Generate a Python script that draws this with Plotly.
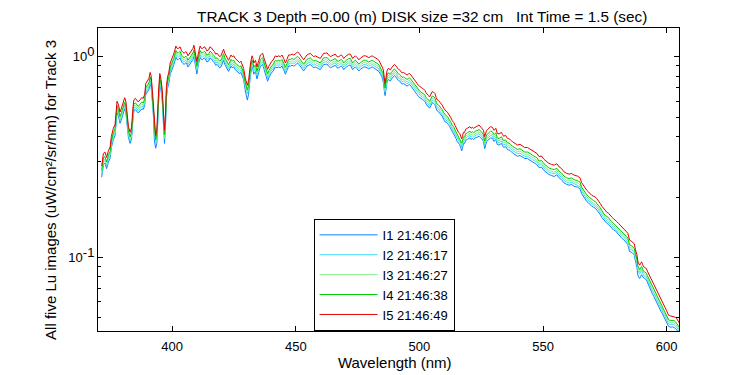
import math
import plotly.graph_objects as go

wavelength = [
    371.5, 372.2, 372.8, 373.5, 374.2, 374.9, 375.4, 376.2, 376.9, 377.4,
    377.7, 378.3, 378.9, 379.5, 380.2, 380.8, 381.3, 381.8, 382.3, 383.0,
    383.6, 384.1, 384.5, 385.1, 385.7, 386.3, 387.0, 387.7, 388.3, 388.9,
    389.3, 390.0, 390.6, 391.1, 391.5, 392.0, 392.4, 392.8, 393.3, 393.8,
    394.3, 394.6, 395.0, 395.5, 396.0, 396.4, 396.9, 397.3, 397.7, 398.2,
    398.6, 399.2, 399.7, 400.1, 400.6, 401.0, 401.5, 402.0, 402.5, 403.2,
    403.8, 404.4, 404.9, 405.5, 405.9, 406.4, 406.9, 407.4, 407.9, 408.4,
    408.8, 409.3, 410.0, 410.6, 411.3, 411.8, 412.3, 412.9, 413.4, 414.0,
    414.7, 415.3, 415.8, 416.5, 417.1, 417.6, 418.2, 418.7, 419.2, 419.7,
    420.3, 420.8, 421.3, 421.9, 422.4, 422.8, 423.3, 423.8, 424.3, 424.9,
    425.5, 426.2, 426.8, 427.3, 427.8, 428.2, 428.9, 429.6, 430.0, 430.4,
    430.9, 431.3, 431.7, 432.3, 432.7, 433.0, 433.7, 434.3, 435.0, 435.7,
    436.2, 436.6, 437.2, 437.7, 438.2, 438.6, 439.2, 439.7, 440.3, 440.8,
    441.3, 441.7, 442.4, 443.1, 443.7, 444.4, 445.1, 445.8, 446.4, 447.1,
    447.8, 448.5, 449.1, 449.8, 450.4, 450.8, 451.3, 451.8, 452.5, 453.2,
    453.8, 454.5, 455.2, 455.9, 456.5, 457.2, 457.9, 458.6, 459.2, 459.9,
    460.6, 461.3, 462.0, 462.6, 463.3, 464.0, 464.6, 465.3, 466.0, 466.7,
    467.4, 468.0, 468.5, 469.0, 469.4, 470.0, 470.7, 471.4, 472.1, 472.6,
    473.0, 473.6, 474.1, 474.8, 475.5, 476.2, 476.8, 477.5, 478.2, 478.8,
    479.5, 480.2, 480.9, 481.5, 482.2, 482.9, 483.6, 484.2, 484.7, 485.1,
    485.4, 485.8, 486.1, 486.5, 486.9, 487.4, 487.9, 488.3, 488.7, 489.0,
    489.5, 489.9, 490.5, 491.0, 491.5, 492.0, 492.5, 493.0, 493.6, 494.1,
    494.6, 495.0, 495.5, 496.0, 496.6, 497.1, 497.7, 498.2, 498.7, 499.1,
    499.6, 500.1, 500.7, 501.2, 501.7, 502.2, 502.7, 503.2, 503.7, 504.1,
    504.7, 505.2, 505.8, 506.3, 506.8, 507.2, 507.7, 508.2, 508.7, 509.2,
    509.8, 510.3, 510.8, 511.3, 511.8, 512.2, 512.8, 513.3, 513.9, 514.4,
    514.8, 515.3, 515.8, 516.3, 516.7, 517.1, 517.4, 517.8, 518.3, 518.7,
    519.4, 519.9, 520.4, 520.9, 521.4, 521.9, 522.4, 522.9, 523.4, 524.1,
    524.6, 525.1, 525.6, 525.9, 526.4, 526.8, 527.2, 527.7, 528.1, 528.8,
    529.5, 530.2, 530.9, 531.5, 532.2, 532.7, 533.2, 533.6, 534.0, 534.9,
    535.6, 536.2, 536.7, 537.6, 538.6, 539.2, 539.7, 540.7, 541.7, 542.6,
    543.7, 544.4, 545.0, 545.7, 546.4, 547.5, 548.4, 549.4, 550.4, 551.5,
    552.4, 553.4, 554.5, 555.6, 556.5, 557.5, 558.5, 559.6, 560.6, 561.5,
    562.6, 564.0, 565.0, 565.6, 566.3, 567.0, 567.7, 568.4, 569.0, 569.7,
    570.4, 571.1, 571.8, 572.4, 573.1, 573.8, 574.5, 575.1, 575.8, 576.5,
    577.1, 577.8, 578.5, 579.2, 579.8, 580.5, 581.2, 581.8, 582.5, 583.2,
    583.8, 584.3, 584.7, 585.0, 585.9, 586.5, 586.9, 587.4, 588.0, 588.4,
    588.7, 589.1, 589.5, 589.9, 590.3, 590.7, 591.2, 591.8, 592.2, 592.7,
    593.2, 593.7, 594.2, 594.8, 595.3, 595.9, 596.3, 596.8, 597.3, 597.7,
    598.3, 598.8, 599.4, 599.9, 600.4, 600.8, 601.3, 601.8, 602.4, 602.9,
    603.6, 604.1, 604.5, 605.2,
]

I1 = [
    0.251, 0.290, 0.295, 0.277, 0.299, 0.312, 0.352, 0.387, 0.405, 0.458,
    0.528, 0.506, 0.466, 0.488, 0.528, 0.550, 0.524, 0.440, 0.396, 0.370,
    0.392, 0.484, 0.537, 0.546, 0.537, 0.524, 0.537, 0.550, 0.546, 0.572,
    0.647, 0.673, 0.686, 0.735, 0.704, 0.598, 0.510, 0.385, 0.350, 0.370,
    0.540, 0.625, 0.726, 0.678, 0.598, 0.495, 0.370, 0.450, 0.630, 0.704,
    0.730, 0.818, 0.845, 0.862, 0.906, 0.942, 0.994, 0.968, 0.968, 0.986,
    0.942, 0.924, 0.915, 0.933, 0.920, 0.889, 0.906, 0.924, 0.946, 0.968,
    1.003, 0.915, 0.820, 0.915, 0.994, 0.968, 0.968, 0.986, 0.977, 0.942,
    0.950, 0.986, 0.977, 0.950, 0.933, 0.906, 0.915, 0.898, 0.880, 0.889,
    0.933, 0.959, 0.915, 0.880, 0.862, 0.845, 0.871, 0.898, 0.880, 0.889,
    0.862, 0.845, 0.836, 0.823, 0.836, 0.814, 0.770, 0.675, 0.635, 0.608,
    0.650, 0.740, 0.818, 0.889, 0.862, 0.818, 0.845, 0.775, 0.845, 0.898,
    0.906, 0.915, 0.862, 0.818, 0.783, 0.755, 0.792, 0.818, 0.836, 0.845,
    0.871, 0.889, 0.880, 0.889, 0.880, 0.898, 0.862, 0.818, 0.854, 0.898,
    0.898, 0.906, 0.898, 0.906, 0.924, 0.928, 0.915, 0.898, 0.871, 0.849,
    0.871, 0.898, 0.906, 0.915, 0.898, 0.880, 0.889, 0.880, 0.871, 0.862,
    0.889, 0.915, 0.915, 0.920, 0.898, 0.880, 0.889, 0.898, 0.906, 0.880,
    0.880, 0.893, 0.898, 0.880, 0.862, 0.880, 0.898, 0.906, 0.906, 0.880,
    0.862, 0.880, 0.889, 0.871, 0.849, 0.867, 0.880, 0.889, 0.889, 0.880,
    0.871, 0.880, 0.889, 0.880, 0.871, 0.858, 0.845, 0.818, 0.801, 0.774,
    0.750, 0.680, 0.640, 0.690, 0.748, 0.770, 0.766, 0.757, 0.774, 0.783,
    0.796, 0.805, 0.792, 0.770, 0.761, 0.757, 0.744, 0.730, 0.735, 0.726,
    0.717, 0.713, 0.722, 0.726, 0.713, 0.700, 0.686, 0.678, 0.660, 0.647,
    0.634, 0.625, 0.616, 0.612, 0.607, 0.598, 0.581, 0.568, 0.563, 0.554,
    0.572, 0.590, 0.585, 0.576, 0.550, 0.537, 0.532, 0.524, 0.515, 0.506,
    0.488, 0.475, 0.471, 0.466, 0.458, 0.449, 0.436, 0.422, 0.414, 0.400,
    0.392, 0.378, 0.370, 0.365, 0.352, 0.340, 0.348, 0.370, 0.370, 0.383,
    0.387, 0.392, 0.394, 0.387, 0.392, 0.387, 0.392, 0.396, 0.397, 0.402,
    0.396, 0.392, 0.383, 0.378, 0.348, 0.370, 0.378, 0.383, 0.387, 0.394,
    0.392, 0.378, 0.387, 0.365, 0.363, 0.368, 0.370, 0.361, 0.354, 0.356,
    0.345, 0.343, 0.341, 0.332, 0.326, 0.322, 0.319, 0.322, 0.316, 0.311,
    0.311, 0.307, 0.304, 0.299, 0.296, 0.290, 0.280, 0.282, 0.271, 0.264,
    0.259, 0.256, 0.253, 0.258, 0.249, 0.244, 0.235, 0.231, 0.229, 0.231,
    0.226, 0.224, 0.219, 0.208, 0.201, 0.195, 0.190, 0.187, 0.183, 0.180,
    0.178, 0.176, 0.172, 0.169, 0.164, 0.158, 0.154, 0.150, 0.148, 0.146,
    0.143, 0.140, 0.137, 0.136, 0.133, 0.130, 0.128, 0.125, 0.123, 0.121,
    0.118, 0.116, 0.111, 0.107, 0.106, 0.104, 0.103, 0.0959, 0.0890, 0.0810,
    0.0795, 0.0785, 0.0805, 0.0820, 0.0800, 0.0790, 0.0783, 0.0774, 0.0752, 0.0730,
    0.0704, 0.0682, 0.0660, 0.0640, 0.0620, 0.0604, 0.0588, 0.0570, 0.0554, 0.0539,
    0.0524, 0.0509, 0.0495, 0.0480, 0.0466, 0.0453, 0.0451, 0.0449, 0.0451, 0.0449,
    0.0443, 0.0436, 0.0429, 0.0414,
]

I2 = [
    0.258, 0.299, 0.303, 0.285, 0.308, 0.321, 0.362, 0.398, 0.416, 0.471,
    0.543, 0.520, 0.480, 0.502, 0.543, 0.566, 0.538, 0.453, 0.407, 0.380,
    0.403, 0.498, 0.552, 0.561, 0.552, 0.538, 0.552, 0.566, 0.561, 0.588,
    0.665, 0.692, 0.706, 0.756, 0.724, 0.615, 0.525, 0.407, 0.367, 0.389,
    0.561, 0.643, 0.747, 0.697, 0.615, 0.516, 0.389, 0.471, 0.652, 0.724,
    0.751, 0.842, 0.869, 0.887, 0.932, 0.968, 1.023, 0.996, 0.996, 1.014,
    0.968, 0.950, 0.941, 0.959, 0.946, 0.914, 0.932, 0.950, 0.973, 0.996,
    1.032, 0.941, 0.855, 0.941, 1.023, 0.996, 0.996, 1.014, 1.005, 0.968,
    0.977, 1.014, 1.005, 0.977, 0.959, 0.932, 0.941, 0.923, 0.905, 0.914,
    0.959, 0.986, 0.941, 0.905, 0.887, 0.869, 0.896, 0.923, 0.905, 0.914,
    0.887, 0.869, 0.860, 0.846, 0.860, 0.837, 0.792, 0.706, 0.670, 0.652,
    0.688, 0.769, 0.842, 0.914, 0.887, 0.842, 0.869, 0.805, 0.869, 0.923,
    0.932, 0.941, 0.887, 0.842, 0.805, 0.783, 0.815, 0.842, 0.860, 0.869,
    0.896, 0.914, 0.905, 0.914, 0.905, 0.923, 0.887, 0.842, 0.878, 0.923,
    0.923, 0.932, 0.923, 0.932, 0.950, 0.955, 0.941, 0.923, 0.896, 0.873,
    0.896, 0.923, 0.932, 0.941, 0.923, 0.905, 0.914, 0.905, 0.896, 0.887,
    0.914, 0.941, 0.941, 0.946, 0.923, 0.905, 0.914, 0.923, 0.932, 0.905,
    0.905, 0.919, 0.923, 0.905, 0.887, 0.905, 0.923, 0.932, 0.932, 0.905,
    0.887, 0.905, 0.914, 0.896, 0.873, 0.891, 0.905, 0.914, 0.914, 0.905,
    0.896, 0.905, 0.914, 0.905, 0.896, 0.882, 0.869, 0.842, 0.824, 0.796,
    0.778, 0.706, 0.665, 0.715, 0.769, 0.792, 0.787, 0.778, 0.796, 0.805,
    0.819, 0.828, 0.815, 0.792, 0.783, 0.778, 0.765, 0.751, 0.756, 0.747,
    0.738, 0.733, 0.742, 0.747, 0.733, 0.719, 0.706, 0.697, 0.679, 0.665,
    0.652, 0.643, 0.634, 0.629, 0.624, 0.615, 0.597, 0.584, 0.579, 0.570,
    0.588, 0.606, 0.602, 0.593, 0.566, 0.552, 0.548, 0.538, 0.529, 0.520,
    0.502, 0.489, 0.484, 0.480, 0.471, 0.462, 0.448, 0.434, 0.425, 0.412,
    0.403, 0.389, 0.380, 0.376, 0.367, 0.353, 0.362, 0.380, 0.380, 0.394,
    0.398, 0.403, 0.405, 0.398, 0.403, 0.398, 0.403, 0.407, 0.408, 0.414,
    0.407, 0.403, 0.394, 0.389, 0.362, 0.380, 0.389, 0.394, 0.398, 0.405,
    0.403, 0.389, 0.398, 0.376, 0.373, 0.378, 0.380, 0.371, 0.364, 0.367,
    0.355, 0.353, 0.350, 0.341, 0.335, 0.331, 0.329, 0.331, 0.325, 0.319,
    0.319, 0.316, 0.312, 0.308, 0.304, 0.299, 0.288, 0.290, 0.279, 0.272,
    0.266, 0.263, 0.261, 0.265, 0.256, 0.251, 0.242, 0.237, 0.235, 0.237,
    0.233, 0.230, 0.225, 0.214, 0.206, 0.201, 0.195, 0.192, 0.188, 0.185,
    0.183, 0.181, 0.177, 0.174, 0.168, 0.163, 0.158, 0.155, 0.152, 0.150,
    0.147, 0.144, 0.141, 0.139, 0.137, 0.134, 0.131, 0.129, 0.127, 0.124,
    0.121, 0.119, 0.114, 0.110, 0.109, 0.107, 0.106, 0.0986, 0.0932, 0.0860,
    0.0842, 0.0828, 0.0846, 0.0860, 0.0833, 0.0813, 0.0805, 0.0796, 0.0774, 0.0751,
    0.0724, 0.0701, 0.0679, 0.0658, 0.0638, 0.0621, 0.0605, 0.0586, 0.0570, 0.0554,
    0.0538, 0.0523, 0.0509, 0.0494, 0.0480, 0.0466, 0.0463, 0.0462, 0.0463, 0.0462,
    0.0455, 0.0448, 0.0441, 0.0425,
]

I3 = [
    0.264, 0.305, 0.310, 0.291, 0.315, 0.328, 0.370, 0.407, 0.426, 0.481,
    0.555, 0.532, 0.490, 0.513, 0.555, 0.578, 0.550, 0.463, 0.416, 0.389,
    0.412, 0.509, 0.564, 0.574, 0.564, 0.550, 0.564, 0.578, 0.574, 0.601,
    0.680, 0.708, 0.722, 0.772, 0.740, 0.629, 0.537, 0.416, 0.375, 0.398,
    0.574, 0.657, 0.763, 0.712, 0.629, 0.527, 0.398, 0.481, 0.666, 0.740,
    0.768, 0.860, 0.888, 0.907, 0.953, 0.990, 1.045, 1.018, 1.018, 1.036,
    0.990, 0.971, 0.962, 0.981, 0.967, 0.934, 0.953, 0.971, 0.994, 1.018,
    1.055, 0.962, 0.874, 0.962, 1.045, 1.018, 1.018, 1.036, 1.027, 0.990,
    0.999, 1.036, 1.027, 0.999, 0.981, 0.953, 0.962, 0.944, 0.925, 0.934,
    0.981, 1.008, 0.962, 0.925, 0.907, 0.888, 0.916, 0.944, 0.925, 0.934,
    0.907, 0.888, 0.879, 0.865, 0.879, 0.856, 0.809, 0.722, 0.685, 0.666,
    0.703, 0.786, 0.860, 0.934, 0.907, 0.860, 0.888, 0.823, 0.888, 0.944,
    0.953, 0.962, 0.907, 0.860, 0.823, 0.800, 0.833, 0.860, 0.879, 0.888,
    0.916, 0.934, 0.925, 0.934, 0.925, 0.944, 0.907, 0.860, 0.897, 0.944,
    0.944, 0.953, 0.944, 0.953, 0.971, 0.976, 0.962, 0.944, 0.916, 0.893,
    0.916, 0.944, 0.953, 0.962, 0.944, 0.925, 0.934, 0.925, 0.916, 0.907,
    0.934, 0.962, 0.962, 0.967, 0.944, 0.925, 0.934, 0.944, 0.953, 0.925,
    0.925, 0.939, 0.944, 0.925, 0.907, 0.925, 0.944, 0.953, 0.953, 0.925,
    0.907, 0.925, 0.934, 0.916, 0.893, 0.911, 0.925, 0.934, 0.934, 0.925,
    0.916, 0.925, 0.934, 0.925, 0.916, 0.902, 0.888, 0.860, 0.842, 0.814,
    0.796, 0.722, 0.680, 0.731, 0.786, 0.809, 0.805, 0.796, 0.814, 0.823,
    0.837, 0.846, 0.833, 0.809, 0.800, 0.796, 0.782, 0.768, 0.772, 0.763,
    0.754, 0.749, 0.759, 0.763, 0.749, 0.735, 0.722, 0.712, 0.694, 0.680,
    0.666, 0.657, 0.648, 0.643, 0.638, 0.629, 0.611, 0.597, 0.592, 0.583,
    0.601, 0.620, 0.615, 0.606, 0.578, 0.564, 0.560, 0.550, 0.541, 0.532,
    0.513, 0.500, 0.495, 0.490, 0.481, 0.472, 0.458, 0.444, 0.435, 0.421,
    0.412, 0.398, 0.389, 0.384, 0.375, 0.361, 0.370, 0.389, 0.389, 0.402,
    0.407, 0.412, 0.414, 0.407, 0.412, 0.407, 0.412, 0.416, 0.417, 0.423,
    0.416, 0.412, 0.402, 0.398, 0.370, 0.389, 0.398, 0.402, 0.407, 0.414,
    0.412, 0.398, 0.407, 0.384, 0.381, 0.387, 0.389, 0.379, 0.372, 0.375,
    0.363, 0.361, 0.358, 0.349, 0.342, 0.339, 0.336, 0.339, 0.332, 0.327,
    0.327, 0.323, 0.319, 0.315, 0.311, 0.305, 0.294, 0.296, 0.285, 0.278,
    0.272, 0.269, 0.266, 0.271, 0.262, 0.256, 0.247, 0.242, 0.241, 0.242,
    0.238, 0.235, 0.230, 0.218, 0.211, 0.205, 0.200, 0.196, 0.192, 0.189,
    0.187, 0.185, 0.181, 0.178, 0.172, 0.167, 0.162, 0.158, 0.155, 0.154,
    0.150, 0.147, 0.144, 0.142, 0.140, 0.137, 0.134, 0.131, 0.130, 0.127,
    0.124, 0.122, 0.117, 0.113, 0.111, 0.109, 0.108, 0.101, 0.0953, 0.0879,
    0.0860, 0.0846, 0.0865, 0.0879, 0.0851, 0.0831, 0.0823, 0.0814, 0.0791, 0.0768,
    0.0740, 0.0717, 0.0694, 0.0672, 0.0652, 0.0635, 0.0618, 0.0599, 0.0583, 0.0566,
    0.0550, 0.0535, 0.0520, 0.0505, 0.0490, 0.0476, 0.0474, 0.0472, 0.0474, 0.0472,
    0.0465, 0.0458, 0.0450, 0.0435,
]

I4 = [
    0.271, 0.314, 0.318, 0.299, 0.323, 0.337, 0.380, 0.418, 0.437, 0.494,
    0.570, 0.546, 0.504, 0.527, 0.570, 0.594, 0.565, 0.475, 0.428, 0.399,
    0.423, 0.523, 0.580, 0.589, 0.580, 0.565, 0.580, 0.594, 0.589, 0.618,
    0.698, 0.727, 0.741, 0.793, 0.760, 0.646, 0.551, 0.428, 0.385, 0.409,
    0.589, 0.675, 0.784, 0.732, 0.646, 0.542, 0.409, 0.494, 0.684, 0.760,
    0.789, 0.884, 0.912, 0.931, 0.979, 1.017, 1.074, 1.045, 1.045, 1.064,
    1.017, 0.998, 0.988, 1.007, 0.993, 0.960, 0.979, 0.998, 1.021, 1.045,
    1.083, 0.988, 0.898, 0.988, 1.074, 1.045, 1.045, 1.064, 1.055, 1.017,
    1.026, 1.064, 1.055, 1.026, 1.007, 0.979, 0.988, 0.969, 0.950, 0.960,
    1.007, 1.036, 0.988, 0.950, 0.931, 0.912, 0.941, 0.969, 0.950, 0.960,
    0.931, 0.912, 0.903, 0.888, 0.903, 0.879, 0.831, 0.741, 0.703, 0.684,
    0.722, 0.808, 0.884, 0.960, 0.931, 0.884, 0.912, 0.846, 0.912, 0.969,
    0.979, 0.988, 0.931, 0.884, 0.846, 0.822, 0.855, 0.884, 0.903, 0.912,
    0.941, 0.960, 0.950, 0.960, 0.950, 0.969, 0.931, 0.884, 0.922, 0.969,
    0.969, 0.979, 0.969, 0.979, 0.998, 1.002, 0.988, 0.969, 0.941, 0.917,
    0.941, 0.969, 0.979, 0.988, 0.969, 0.950, 0.960, 0.950, 0.941, 0.931,
    0.960, 0.988, 0.988, 0.993, 0.969, 0.950, 0.960, 0.969, 0.979, 0.950,
    0.950, 0.964, 0.969, 0.950, 0.931, 0.950, 0.969, 0.979, 0.979, 0.950,
    0.931, 0.950, 0.960, 0.941, 0.917, 0.936, 0.950, 0.960, 0.960, 0.950,
    0.941, 0.950, 0.960, 0.950, 0.941, 0.926, 0.912, 0.884, 0.865, 0.836,
    0.817, 0.741, 0.698, 0.751, 0.808, 0.831, 0.827, 0.817, 0.836, 0.846,
    0.860, 0.869, 0.855, 0.831, 0.822, 0.817, 0.803, 0.789, 0.793, 0.784,
    0.774, 0.770, 0.779, 0.784, 0.770, 0.755, 0.741, 0.732, 0.713, 0.698,
    0.684, 0.675, 0.665, 0.660, 0.656, 0.646, 0.627, 0.613, 0.608, 0.599,
    0.618, 0.637, 0.632, 0.622, 0.594, 0.580, 0.575, 0.565, 0.556, 0.546,
    0.527, 0.513, 0.508, 0.504, 0.494, 0.485, 0.470, 0.456, 0.447, 0.432,
    0.423, 0.409, 0.399, 0.394, 0.385, 0.371, 0.380, 0.399, 0.399, 0.413,
    0.418, 0.423, 0.426, 0.418, 0.423, 0.418, 0.423, 0.428, 0.428, 0.434,
    0.428, 0.423, 0.413, 0.409, 0.380, 0.399, 0.409, 0.413, 0.418, 0.426,
    0.423, 0.409, 0.418, 0.394, 0.391, 0.397, 0.399, 0.390, 0.382, 0.385,
    0.372, 0.371, 0.368, 0.358, 0.352, 0.348, 0.345, 0.348, 0.341, 0.335,
    0.335, 0.332, 0.328, 0.323, 0.319, 0.314, 0.302, 0.304, 0.293, 0.285,
    0.279, 0.276, 0.274, 0.278, 0.269, 0.263, 0.254, 0.249, 0.247, 0.249,
    0.244, 0.241, 0.237, 0.224, 0.217, 0.211, 0.205, 0.201, 0.198, 0.194,
    0.192, 0.190, 0.186, 0.182, 0.177, 0.171, 0.166, 0.162, 0.160, 0.158,
    0.154, 0.151, 0.148, 0.146, 0.143, 0.141, 0.138, 0.135, 0.133, 0.130,
    0.127, 0.125, 0.120, 0.116, 0.114, 0.112, 0.111, 0.104, 0.0979, 0.0903,
    0.0884, 0.0869, 0.0888, 0.0903, 0.0874, 0.0853, 0.0846, 0.0836, 0.0812, 0.0789,
    0.0760, 0.0736, 0.0713, 0.0691, 0.0670, 0.0652, 0.0635, 0.0616, 0.0599, 0.0581,
    0.0565, 0.0549, 0.0534, 0.0519, 0.0504, 0.0489, 0.0486, 0.0485, 0.0486, 0.0485,
    0.0478, 0.0470, 0.0463, 0.0447,
]

I5 = [
    0.285, 0.330, 0.335, 0.315, 0.340, 0.355, 0.400, 0.440, 0.460, 0.520,
    0.600, 0.575, 0.530, 0.555, 0.600, 0.625, 0.595, 0.500, 0.450, 0.420,
    0.445, 0.550, 0.610, 0.620, 0.610, 0.595, 0.610, 0.625, 0.620, 0.650,
    0.735, 0.765, 0.780, 0.835, 0.800, 0.680, 0.580, 0.450, 0.405, 0.430,
    0.620, 0.710, 0.825, 0.770, 0.680, 0.570, 0.430, 0.520, 0.720, 0.800,
    0.830, 0.930, 0.960, 0.980, 1.030, 1.070, 1.130, 1.100, 1.100, 1.120,
    1.070, 1.050, 1.040, 1.060, 1.045, 1.010, 1.030, 1.050, 1.075, 1.100,
    1.140, 1.040, 0.945, 1.040, 1.130, 1.100, 1.100, 1.120, 1.110, 1.070,
    1.080, 1.120, 1.110, 1.080, 1.060, 1.030, 1.040, 1.020, 1.000, 1.010,
    1.060, 1.090, 1.040, 1.000, 0.980, 0.960, 0.990, 1.020, 1.000, 1.010,
    0.980, 0.960, 0.950, 0.935, 0.950, 0.925, 0.875, 0.780, 0.740, 0.720,
    0.760, 0.850, 0.930, 1.010, 0.980, 0.930, 0.960, 0.890, 0.960, 1.020,
    1.030, 1.040, 0.980, 0.930, 0.890, 0.865, 0.900, 0.930, 0.950, 0.960,
    0.990, 1.010, 1.000, 1.010, 1.000, 1.020, 0.980, 0.930, 0.970, 1.020,
    1.020, 1.030, 1.020, 1.030, 1.050, 1.055, 1.040, 1.020, 0.990, 0.965,
    0.990, 1.020, 1.030, 1.040, 1.020, 1.000, 1.010, 1.000, 0.990, 0.980,
    1.010, 1.040, 1.040, 1.045, 1.020, 1.000, 1.010, 1.020, 1.030, 1.000,
    1.000, 1.015, 1.020, 1.000, 0.980, 1.000, 1.020, 1.030, 1.030, 1.000,
    0.980, 1.000, 1.010, 0.990, 0.965, 0.985, 1.000, 1.010, 1.010, 1.000,
    0.990, 1.000, 1.010, 1.000, 0.990, 0.975, 0.960, 0.930, 0.910, 0.880,
    0.860, 0.780, 0.735, 0.790, 0.850, 0.875, 0.870, 0.860, 0.880, 0.890,
    0.905, 0.915, 0.900, 0.875, 0.865, 0.860, 0.845, 0.830, 0.835, 0.825,
    0.815, 0.810, 0.820, 0.825, 0.810, 0.795, 0.780, 0.770, 0.750, 0.735,
    0.720, 0.710, 0.700, 0.695, 0.690, 0.680, 0.660, 0.645, 0.640, 0.630,
    0.650, 0.670, 0.665, 0.655, 0.625, 0.610, 0.605, 0.595, 0.585, 0.575,
    0.555, 0.540, 0.535, 0.530, 0.520, 0.510, 0.495, 0.480, 0.470, 0.455,
    0.445, 0.430, 0.420, 0.415, 0.405, 0.390, 0.400, 0.420, 0.420, 0.435,
    0.440, 0.445, 0.448, 0.440, 0.445, 0.440, 0.445, 0.450, 0.451, 0.457,
    0.450, 0.445, 0.435, 0.430, 0.400, 0.420, 0.430, 0.435, 0.440, 0.448,
    0.445, 0.430, 0.440, 0.415, 0.412, 0.418, 0.420, 0.410, 0.402, 0.405,
    0.392, 0.390, 0.387, 0.377, 0.370, 0.366, 0.363, 0.366, 0.359, 0.353,
    0.353, 0.349, 0.345, 0.340, 0.336, 0.330, 0.318, 0.320, 0.308, 0.300,
    0.294, 0.291, 0.288, 0.293, 0.283, 0.277, 0.267, 0.262, 0.260, 0.262,
    0.257, 0.254, 0.249, 0.236, 0.228, 0.222, 0.216, 0.212, 0.208, 0.204,
    0.202, 0.200, 0.196, 0.192, 0.186, 0.180, 0.175, 0.171, 0.168, 0.166,
    0.162, 0.159, 0.156, 0.154, 0.151, 0.148, 0.145, 0.142, 0.140, 0.137,
    0.134, 0.132, 0.126, 0.122, 0.120, 0.118, 0.117, 0.109, 0.103, 0.095,
    0.093, 0.0915, 0.0935, 0.095, 0.092, 0.0898, 0.089, 0.088, 0.0855, 0.083,
    0.080, 0.0775, 0.075, 0.0727, 0.0705, 0.0686, 0.0668, 0.0648, 0.063, 0.0612,
    0.0595, 0.0578, 0.0562, 0.0546, 0.053, 0.0515, 0.0512, 0.051, 0.0512, 0.051,
    0.0503, 0.0495, 0.0487, 0.047,
]

series_names = ["I1 21:46:06", "I2 21:46:17", "I3 21:46:27", "I4 21:46:38", "I5 21:46:49"]
series_colors = ["#0A80FF", "#3CE0FF", "#86EE86", "#00C800", "#E60000"]

x_tick_vals = [400, 450, 500, 550, 600]
y_tick_vals = [0.1, 1]
y_tick_text = ["10<sup><span style='font-size:13px'>-1</span></sup>",
               "10<sup><span style='font-size:13px'>0</span></sup>"]
y_minor_vals = [0.05, 0.06, 0.07, 0.08, 0.09, 0.2, 0.3, 0.4, 0.5, 0.6, 0.7, 0.8, 0.9]

fig = go.Figure()
for name, ys, col in zip(series_names, [I1, I2, I3, I4, I5], series_colors):
    fig.add_trace(go.Scatter(x=wavelength, y=ys, mode="lines", name=name,
                             line=dict(color=col, width=1)))

FONT = "Arial, 'Liberation Sans', sans-serif"
SP = "&nbsp;"

# the page body adds an 8 px offset, so margins are reduced by 8 on the left/top
fig.update_layout(
    width=750, height=375,
    margin=dict(l=90, r=79, t=20, b=52, autoexpand=False),
    paper_bgcolor="white", plot_bgcolor="white",
    font=dict(family=FONT, size=13, color="black"),
    title=dict(text="TRACK 3 Depth =0.00 (m) DISK size =32 cm" + SP * 2 + " Int Time = 1.5 (sec)",
               x=0.558, xref="paper", xanchor="center",
               y=1 - 9 / 375, yref="container", yanchor="middle", automargin=False,
               font=dict(size=15.3, family=FONT, color="black")),
    showlegend=True,
    legend=dict(x=0.371, y=0.37, xanchor="left", yanchor="top",
                bordercolor="black", borderwidth=1, bgcolor="white",
                itemwidth=58,
                font=dict(size=13, family=FONT, color="black"), tracegroupgap=0),
)

fig.update_xaxes(range=[370, 605], tickvals=x_tick_vals, ticks="inside", ticklen=5,
                 tickcolor="black", showline=True, linecolor="black", linewidth=1,
                 mirror="ticks", showgrid=False, zeroline=False, automargin=False,
                 tickfont=dict(size=13), ticklabelstandoff=3,
                 title=dict(text=SP * 3 + "Wavelength (nm)", font=dict(size=15), standoff=4))

fig.update_yaxes(type="log", range=[math.log10(0.043), math.log10(1.39)],
                 tickvals=y_tick_vals, ticktext=y_tick_text, ticks="inside", ticklen=5,
                 tickcolor="black", showline=True, linecolor="black", linewidth=1,
                 mirror="ticks", showgrid=False, zeroline=False, automargin=False,
                 tickfont=dict(size=13),
                 minor=dict(tickvals=y_minor_vals, ticks="inside", ticklen=3,
                            tickcolor="black", showgrid=False),
                 title=dict(text="All five Lu images (uW/cm²/sr/nm) for Track 3" + SP * 5,
                            font=dict(size=15), standoff=8))

fig.write_html("out.html")
